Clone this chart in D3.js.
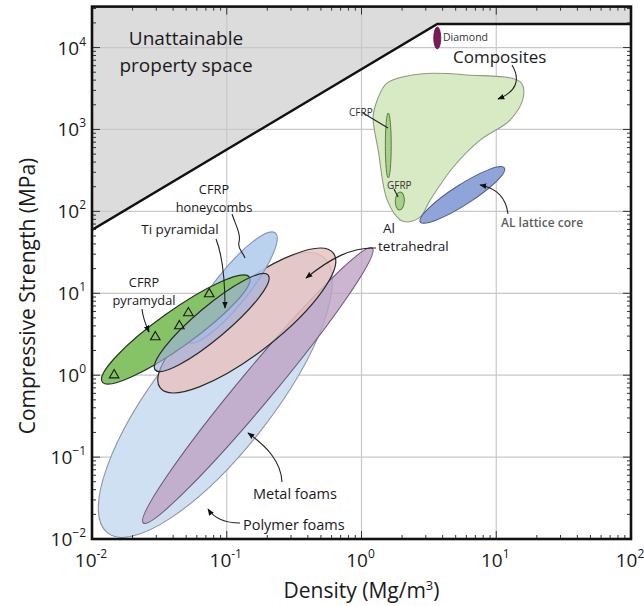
<!DOCTYPE html>
<html><head><meta charset="utf-8">
<script src="https://cdn.jsdelivr.net/npm/d3@7"></script>
<style>
body{margin:0;background:#fff}
svg{display:block}
text{font-family:"Open Sans","Noto Sans",sans-serif;fill:#1a1a1a}
</style>
</head><body>
<svg id="chart" width="644" height="606"></svg>
<script>
// ---- data (density in Mg/m^3, compressive strength in MPa) ----
const densityTicks = [1e-2, 1e-1, 1, 10, 100];
const densityTickExp = ["-2", "-1", "0", "1", "2"];
const strengthTicks = [1e-2, 1e-1, 1, 10, 100, 1e3, 1e4];
const strengthTickExp = ["\u22122", "\u22121", "0", "1", "2", "3", "4"];

// boundary of attainable property space
const limitDensity = [0.01, 3.65, 100];
const limitStrength = [59.3, 19400, 19400];

// material families drawn as ellipses in log-log space:
// major-axis end points and minor/major axis ratio
const familyNames = ["Polymer foams", "Metal foams", "Al tetrahedral", "CFRP honeycombs",
  "CFRP pyramydal", "Ti pyramidal", "CFRP", "GFRP", "AL lattice core", "Diamond"];
const familyDensityLo  = [0.01303, 0.02404, 0.0321, 0.0519, 0.01192, 0.0295, 1.58, 1.91, 2.73, 3.65];
const familyStrengthLo = [0.01187, 0.01567, 0.698, 2.54, 0.826, 1.157, 256, 104, 74.3, 9620];
const familyDensityHi  = [0.519, 1.203, 0.618, 0.229, 0.147, 0.203, 1.58, 1.94, 11.5, 3.65];
const familyStrengthHi = [27.7, 35.7, 31.0, 54.5, 15.8, 16.7, 1590, 172.6, 339, 17800];
const familyAspect     = [0.33, 0.095, 0.3, 0.244, 0.2, 0.217, 0.09, 0.5, 0.2, 0.32];

// composites envelope
const compositesDensity  = [1.55, 2.73, 6.10, 15.1, 15.9, 12.7, 7.62, 4.80, 3.24, 2.73, 2.22, 1.94, 1.55, 1.33, 1.22, 1.31];
const compositesStrength = [3700, 4760, 4630, 3800, 2490, 1310, 745, 348, 138, 85.5, 74.3, 78.5, 138, 562, 1420, 2290];

// measured CFRP pyramidal lattice cores
const pyramidalDensity  = [0.0146, 0.0295, 0.0445, 0.0519, 0.0741];
const pyramidalStrength = [1.03, 3.01, 4.1, 5.9, 10.1];

// ---- styling ----
const familyStyle = {
  "Polymer foams":   {fill: "#cfe0f3", stroke: "#8d959f", sw: 1.1, op: 1},
  "Metal foams":     {fill: "#bea2c4", stroke: "#6d5a77", sw: 1.1, op: 0.8},
  "Al tetrahedral":  {fill: "#e8c1bd", stroke: "#2a2a2a", sw: 1.2, op: 0.8},
  "CFRP honeycombs": {fill: "#b4cdec", stroke: "#7d96bb", sw: 1.1, op: 0.9},
  "CFRP pyramydal":  {fill: "#86c266", stroke: "#27331f", sw: 1.2, op: 1},
  "Ti pyramidal":    {fill: "#9fb0dc", stroke: "#2a2a2a", sw: 1.2, op: 0.65},
  "CFRP":            {fill: "#a6d08b", stroke: "#5a7d3d", sw: 1, op: 1},
  "GFRP":            {fill: "#a6d08b", stroke: "#5a7d3d", sw: 1, op: 1},
  "AL lattice core": {fill: "#8fa5d9", stroke: "#4b5a86", sw: 1, op: 1},
  "Diamond":         {fill: "#7a1a57", stroke: "#5a0f40", sw: 0.8, op: 1}
};

const svg = d3.select("#chart");
const pLeft = 92, pRight = 631, pTop = 6.6, pBottom = 539;
const x = d3.scaleLog().domain([1e-2, 1e2]).range([pLeft, pRight]);
const yTop = Math.pow(10, 4.5);
const y = d3.scaleLog().domain([1e-2, yTop]).range([pBottom, pTop]);

const defs = svg.append("defs");
defs.append("clipPath").attr("id", "plotClip")
  .append("rect").attr("x", pLeft).attr("y", pTop).attr("width", pRight - pLeft).attr("height", pBottom - pTop);
defs.append("marker").attr("id", "arrow").attr("viewBox", "0 0 10 10")
  .attr("refX", 9).attr("refY", 5).attr("markerWidth", 7).attr("markerHeight", 7)
  .attr("orient", "auto-start-reverse").attr("markerUnits", "userSpaceOnUse")
  .append("path").attr("d", "M0,1 L10,5 L0,9 Z").attr("fill", "#111");

const plot = svg.append("g").attr("clip-path", "url(#plotClip)");

// unattainable region above the limit line
const region = [[1e-2, yTop]].concat(limitDensity.map((d, i) => [d, limitStrength[i]])).concat([[1e2, yTop]]);
plot.append("path")
  .attr("d", d3.line().x(d => x(d[0])).y(d => y(d[1]))(region) + "Z")
  .attr("fill", "#dcdcdc");

// decade gridlines
plot.selectAll(".gx").data(densityTicks.slice(1, -1)).join("line")
  .attr("x1", d => x(d)).attr("x2", d => x(d)).attr("y1", pTop).attr("y2", pBottom)
  .attr("stroke", "#c8c8c8").attr("stroke-width", 1.2);
plot.selectAll(".gy").data(strengthTicks.slice(1)).join("line")
  .attr("y1", d => y(d)).attr("y2", d => y(d)).attr("x1", pLeft).attr("x2", pRight)
  .attr("stroke", "#c8c8c8").attr("stroke-width", 1.2);

// ellipse for one family, built in screen space from its axis end points
function drawFamily(i) {
  const name = familyNames[i], st = familyStyle[name];
  const x1 = x(familyDensityLo[i]), y1 = y(familyStrengthLo[i]);
  const x2 = x(familyDensityHi[i]), y2 = y(familyStrengthHi[i]);
  const cx = (x1 + x2) / 2, cy = (y1 + y2) / 2;
  const a = Math.hypot(x2 - x1, y2 - y1) / 2;
  const ang = Math.atan2(y2 - y1, x2 - x1) * 180 / Math.PI;
  plot.append("ellipse")
    .attr("cx", 0).attr("cy", 0).attr("rx", a).attr("ry", a * familyAspect[i])
    .attr("transform", `translate(${cx},${cy}) rotate(${ang})`)
    .attr("fill", st.fill).attr("fill-opacity", st.op)
    .attr("stroke", st.stroke).attr("stroke-width", st.sw);
}

["Polymer foams", "Metal foams", "Al tetrahedral", "CFRP honeycombs", "CFRP pyramydal", "Ti pyramidal"]
  .forEach(n => drawFamily(familyNames.indexOf(n)));

// composites envelope
plot.append("path")
  .datum(compositesDensity.map((d, i) => [d, compositesStrength[i]]))
  .attr("d", d3.line().x(d => x(d[0])).y(d => y(d[1])).curve(d3.curveCatmullRomClosed.alpha(0.5)))
  .attr("fill", "#d8eac4").attr("stroke", "#8d9b80").attr("stroke-width", 1.1);

["CFRP", "GFRP", "AL lattice core", "Diamond"].forEach(n => drawFamily(familyNames.indexOf(n)));

// measured points
plot.selectAll(".tri").data(pyramidalDensity.map((d, i) => [d, pyramidalStrength[i]])).join("path")
  .attr("transform", d => `translate(${x(d[0])},${y(d[1]) + 1})`)
  .attr("d", d3.symbol().type(d3.symbolTriangle).size(40))
  .attr("fill", "none").attr("stroke", "#1a1a1a").attr("stroke-width", 1.1);

// limit line
plot.append("path")
  .attr("d", d3.line().x(d => x(d[0])).y(d => y(d[1]))(limitDensity.map((d, i) => [d, limitStrength[i]])))
  .attr("fill", "none").attr("stroke", "#111").attr("stroke-width", 2.4);

// ---- ticks on all four sides, pointing inward ----
const ticks = svg.append("g").attr("stroke", "#333").attr("stroke-width", 1);
function minorVals(lo, hi, maxV) {
  const out = [];
  for (let e = lo; e <= hi; e++) for (let k = 2; k <= 9; k++) { const v = k * Math.pow(10, e); if (v < maxV) out.push(v); }
  return out;
}
const xMinor = minorVals(-2, 1, 100), yMinor = minorVals(-2, 4, yTop);
[[densityTicks, 8], [xMinor, 4]].forEach(([vals, len]) => {
  vals.forEach(v => {
    ticks.append("line").attr("x1", x(v)).attr("x2", x(v)).attr("y1", pBottom).attr("y2", pBottom - len);
    ticks.append("line").attr("x1", x(v)).attr("x2", x(v)).attr("y1", pTop).attr("y2", pTop + len);
  });
});
[[strengthTicks, 8], [yMinor, 4]].forEach(([vals, len]) => {
  vals.forEach(v => {
    ticks.append("line").attr("y1", y(v)).attr("y2", y(v)).attr("x1", pLeft).attr("x2", pLeft + len);
    ticks.append("line").attr("y1", y(v)).attr("y2", y(v)).attr("x1", pRight).attr("x2", pRight - len);
  });
});

// frame
svg.append("rect").attr("x", pLeft).attr("y", pTop).attr("width", pRight - pLeft).attr("height", pBottom - pTop)
  .attr("fill", "none").attr("stroke", "#111").attr("stroke-width", 2.6);

// tick labels
densityTicks.forEach((v, i) => {
  const t = svg.append("text").attr("x", x(v) - 1).attr("y", 567).attr("text-anchor", "middle")
    .attr("font-size", 19);
  t.append("tspan").text("10");
  t.append("tspan").attr("font-size", 12).attr("dy", -9).text(densityTickExp[i]);
});
strengthTicks.forEach((v, i) => {
  const t = svg.append("text").attr("x", 86).attr("y", y(v) + 7).attr("text-anchor", "end")
    .attr("font-size", 19);
  t.append("tspan").text("10");
  t.append("tspan").attr("font-size", 12).attr("dy", -9).text(strengthTickExp[i]);
});

// axis titles
const xt = svg.append("text").attr("x", (pLeft + pRight) / 2).attr("y", 598).attr("text-anchor", "middle").attr("font-size", 21);
xt.append("tspan").text("Density (Mg/m");
xt.append("tspan").attr("font-size", 13).attr("dy", -8).text("3");
xt.append("tspan").attr("dy", 8).text(")");
svg.append("text").attr("transform", "translate(35,296) rotate(-90)").attr("text-anchor", "middle")
  .attr("font-size", 21).text("Compressive Strength (MPa)");

// ---- annotations: each label is one text block, lines stacked as tspans ----
const notes = [
  {lines: ["Unattainable", "property space"], x: [186, 186], y: 45, lh: 27, s: 19, a: "middle"},
  {lines: ["Composites"], x: [453], y: 62.5, s: 17, a: "start"},
  {lines: ["Diamond"], x: [443], y: 41, s: 10.5, a: "start", c: "#333"},
  {lines: ["CFRP"], x: [349], y: 116, s: 10, a: "start", c: "#333"},
  {lines: ["GFRP"], x: [387], y: 189, s: 10, a: "start", c: "#333"},
  {lines: ["AL lattice core"], x: [501], y: 227, s: 12, a: "start", c: "#5d5d5d", w: 600},
  {lines: ["CFRP", "honeycombs"], x: [214, 214], y: 194, lh: 17.5, s: 12.8, a: "middle"},
  {lines: ["Ti pyramidal"], x: [180], y: 234, s: 13.5, a: "middle"},
  {lines: ["CFRP", "pyramydal"], x: [144, 144], y: 287, lh: 17.5, s: 12.8, a: "middle"},
  {lines: ["Al", "tetrahedral"], x: [383, 378], y: 233, lh: 18.4, s: 13.5, a: "start"},
  {lines: ["Metal foams"], x: [253], y: 499, s: 14.5, a: "start"},
  {lines: ["Polymer foams"], x: [243], y: 530, s: 14.5, a: "start"}
];
notes.forEach(n => {
  const t = svg.append("text").attr("x", n.x[0]).attr("y", n.y).attr("text-anchor", n.a)
    .attr("font-size", n.s).attr("font-weight", n.w || 400).style("fill", n.c || "#1a1a1a");
  n.lines.forEach((ln, j) => t.append("tspan").attr("x", n.x[j]).attr("dy", j ? n.lh : 0).text(ln));
});

const leaders = [
  {d: "M512,65 C521,80 516,92 498,99", arrow: true},
  {d: "M363,113 L388,128", arrow: false},
  {d: "M394,189 L398,197", arrow: false},
  {d: "M508,214 C506,197 496,188 480,185", arrow: true},
  {d: "M232,214 C236,226 241,234 239,242 C237,249 243,252 245,258", arrow: false},
  {d: "M216,239 C223,257 225,282 225,308", arrow: true},
  {d: "M142,309 C143,319 146,325 149,332", arrow: true},
  {d: "M376,248 C352,247 331,258 306,278", arrow: true},
  {d: "M282,482 C281,461 266,446 248,433", arrow: true},
  {d: "M240,523 C225,523 214,518 208,509", arrow: true}
];
leaders.forEach(l => svg.append("path").attr("d", l.d).attr("fill", "none")
  .attr("stroke", "#222").attr("stroke-width", 1.1)
  .attr("marker-end", l.arrow ? "url(#arrow)" : null));
</script>
</body></html>
